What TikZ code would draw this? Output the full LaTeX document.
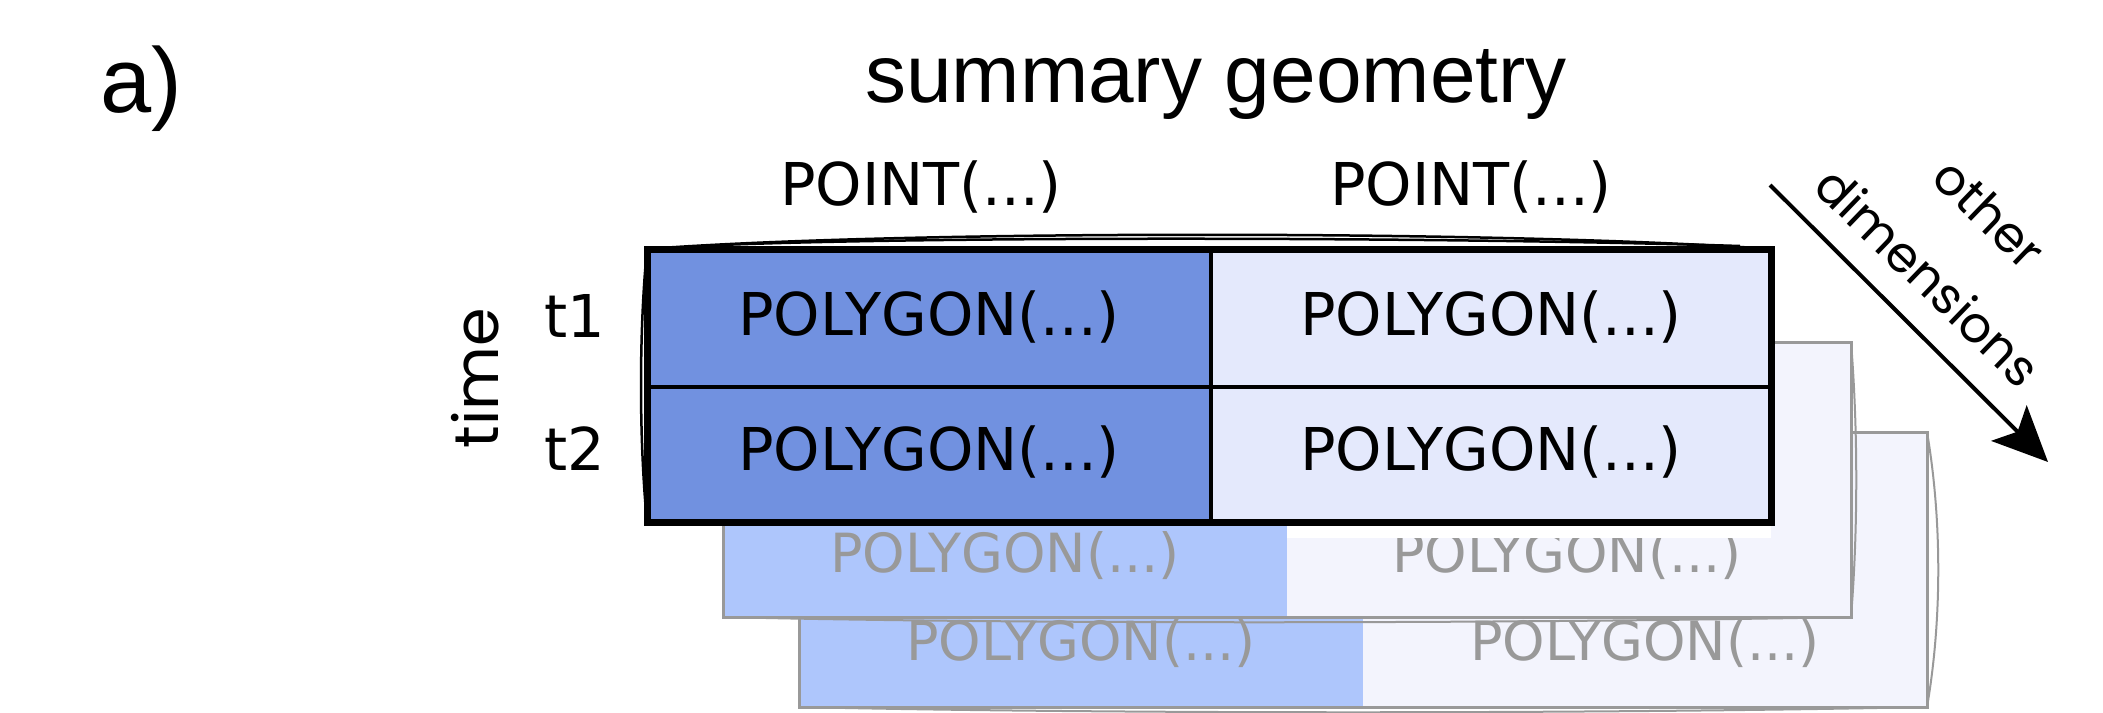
\documentclass[tikz,border=0pt]{standalone}
\usepackage{fontspec}
\setmainfont{DejaVu Sans}
\newfontfamily\myLab{DejaVu Sans}
\newfontfamily\myTitle{Liberation Sans}
\newfontfamily\myGeo{Poppins}
\usetikzlibrary{arrows.meta}
\definecolor{mainL}{HTML}{7191E0}
\definecolor{mainR}{HTML}{E4E9FC}
\definecolor{bgL}{HTML}{AEC6FC}
\definecolor{bgR}{HTML}{F3F4FD}
\definecolor{ghost}{HTML}{999999}
\begin{document}
\begin{tikzpicture}[x=1pt,y=-1pt,
  lbl/.style={font=\myLab\fontsize{59}{70}\selectfont, inner sep=0pt, anchor=base},
  ghosttxt/.style={font=\myLab\fontsize{54}{64}\selectfont, inner sep=0pt, anchor=base, text=ghost},
  ghostbox/.style={draw=ghost, line width=3pt},
  ghostsketch/.style={draw=ghost, line width=2pt},
  geotxt/.style={font=\myGeo\fontsize{50}{88}\selectfont, inner sep=0pt, align=center},
  mainline/.style={draw=black, line width=4pt},
  mainframe/.style={draw=black, line width=7pt},
  sketch/.style={draw=black, line width=2.5pt}]
\useasboundingbox (0,0) rectangle (2103,712);

% background table 2
\fill[bgL] (799,432) rectangle (1363,707);
\fill[bgR] (1363,432) rectangle (1927,707);
\draw[ghostbox] (799,432) rectangle (1927,707);
\draw[ghostsketch] (1927,432) .. controls (1942,520) and (1942,620) .. (1927,707);
\draw[ghostsketch] (799,707) .. controls (1100,714) and (1600,714) .. (1927,707);
\node[ghosttxt] (b2l) at (1081,660) {POLYGON(...)};
\node[ghosttxt] (b2r) at (1645,660) {POLYGON(...)};

% background table 1
\fill[bgL] (723,342) rectangle (1287,617);
\fill[bgR] (1287,342) rectangle (1851,617);
\draw[ghostbox] (723,342) rectangle (1851,617);
\draw[ghostsketch] (1851,342) .. controls (1858,430) and (1858,530) .. (1851,617);
\draw[ghostsketch] (723,617) .. controls (1000,624) and (1500,624) .. (1851,617);
\node[ghosttxt] (b1l) at (1005,572) {POLYGON(...)};
\node[ghosttxt] (b1r) at (1567,572) {POLYGON(...)};

\fill[white] (1287,522) rectangle (1771,538);

% main table
\fill[mainL] (647,249) rectangle (1211,522);
\fill[mainR] (1211,249) rectangle (1771,522);
\draw[mainline] (1211,249) -- (1211,522);
\draw[mainline] (647,387) -- (1771,387);
\draw[mainframe] (647,249) rectangle (1771,522);
\draw[sketch] (647,249) .. controls (900,230) and (1500,230) .. (1771,249);
\draw[sketch] (720,245) .. controls (950,236) and (1450,237) .. (1740,246);
\draw[sketch] (647,249) .. controls (639,330) and (639,440) .. (647,522);

\node[lbl] (m11) at (929,335) {POLYGON(...)};
\node[lbl] (m12) at (1491,335) {POLYGON(...)};
\node[lbl] (m21) at (929,470) {POLYGON(...)};
\node[lbl] (m22) at (1491,470) {POLYGON(...)};

% headers
\node[lbl] (p1) at (921,205) {POINT(...)};
\node[lbl] (p2) at (1471,205) {POINT(...)};
\node[font=\myTitle\fontsize{82}{90}\selectfont, inner sep=0pt, anchor=base] (title) at (1216,102) {summary geometry};
\node[font=\myTitle\fontsize{92}{100}\selectfont, inner sep=0pt, anchor=base west] (lbla) at (100,112) {a)};

% time axis
\node[font=\myGeo\fontsize{62}{70}\selectfont, inner sep=0pt, rotate=90, anchor=base] (time) at (498,378) {time};
\node[lbl] (t1) at (575,337) {t1};
\node[lbl] (t2) at (575,470) {t2};

% other dimensions
\coordinate (arrS) at (1770,185);
\coordinate (arrE) at (2048,462);
\draw[line width=4pt, -{Stealth[length=55pt,width=50pt,inset=12pt]}] (arrS) -- (arrE);
\node[geotxt, rotate=-44] (othdim) at (1959,245) {other\\dimensions};
\end{tikzpicture}
\end{document}
